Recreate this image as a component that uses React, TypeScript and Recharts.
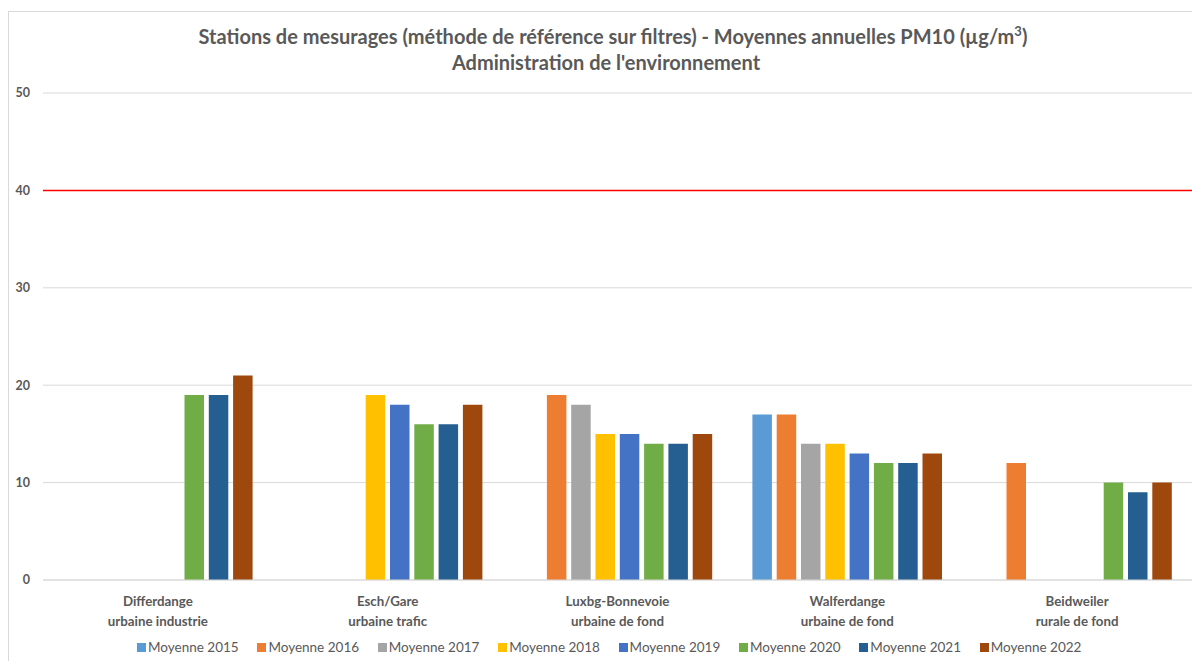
import React from 'react'
import { BarChart, Bar, XAxis, YAxis, CartesianGrid, ReferenceLine } from 'recharts'

const stations = ['Differdange', 'Esch/Gare', 'Luxbg-Bonnevoie', 'Walferdange', 'Beidweiler']
const stationTypes = ['urbaine industrie', 'urbaine trafic', 'urbaine de fond', 'urbaine de fond', 'rurale de fond']

const years = ['2015', '2016', '2017', '2018', '2019', '2020', '2021', '2022']
const colors = ['#5B9BD5', '#ED7D31', '#A5A5A5', '#FFC000', '#4472C4', '#70AD47', '#255E91', '#9E480E']

// one row per year, one value per station (null = no measurement)
const moy2015 = [null, null, null, 17, null]
const moy2016 = [null, null, 19, 17, 12]
const moy2017 = [null, null, 18, 14, null]
const moy2018 = [null, 19, 15, 14, null]
const moy2019 = [null, 18, 15, 13, null]
const moy2020 = [19, 16, 14, 12, 10]
const moy2021 = [19, 16, 14, 12, 9]
const moy2022 = [21, 18, 15, 13, 10]

const yTicks = [0, 10, 20, 30, 40, 50]
const limitValue = 40

const seriesValues = [moy2015, moy2016, moy2017, moy2018, moy2019, moy2020, moy2021, moy2022]

const data = stations.map((s, i) => {
  const row: Record<string, string | number | null> = { name: s, type: stationTypes[i] }
  years.forEach((y, k) => {
    row['y' + y] = seriesValues[k][i]
  })
  return row
})

const FONT = 'Lato, "Open Sans", sans-serif'
const GREY = '#595959'

function StationTick(props: any) {
  const { x, y, payload, index } = props
  return (
    <text x={x} y={y} textAnchor="middle" fill={GREY} fontSize={13.3} fontWeight={700} fontFamily={FONT}>
      <tspan x={x} dy={18}>{payload.value}</tspan>
      <tspan x={x} dy={20}>{stationTypes[index]}</tspan>
    </text>
  )
}

export default function App() {
  return (
    <div style={{ position: 'absolute', left: 0, top: 0, width: 1192, height: 661, background: '#fff', overflow: 'hidden' }}>
      <div
        style={{
          position: 'absolute',
          left: 8,
          top: 11,
          width: 1200,
          height: 700,
          borderLeft: '1.5px solid #D9D9D9',
          borderTop: '1.5px solid #D9D9D9',
        }}
      />
      <div
        style={{
          position: 'absolute',
          left: 0,
          width: 1226,
          top: 23,
          textAlign: 'center',
          fontFamily: FONT,
          fontWeight: 700,
          fontSize: 20,
          color: GREY,
          lineHeight: '26px',
        }}
      >
        <div>
          Stations de mesurages (méthode de référence sur filtres) - Moyennes annuelles PM10 (µg/m<sup style={{ fontSize: 13, lineHeight: 0 }}>3</sup>)
        </div>
        <div style={{ paddingRight: 14 }}>Administration de l'environnement</div>
      </div>
      <BarChart
        width={1192}
        height={661}
        data={data}
        margin={{ top: 93, right: 0, bottom: 0, left: 0 }}
        barSize={19.5}
        barGap={4.8}
        style={{ position: 'absolute', left: 0, top: 0 }}
      >
        <CartesianGrid vertical={false} stroke="#D9D9D9" strokeWidth={1} />
        <XAxis
          dataKey="name"
          tick={<StationTick />}
          tickLine={false}
          axisLine={{ stroke: '#D9D9D9' }}
          interval={0}
          height={81}
        />
        <YAxis
          domain={[0, 50]}
          ticks={yTicks}
          width={43}
          tickLine={false}
          axisLine={false}
          tickMargin={7}
          tick={{ fill: GREY, fontSize: 12.5, fontWeight: 700, fontFamily: FONT }}
        />
        <ReferenceLine y={limitValue} stroke="#FF0000" strokeWidth={1.5} />
        {years.map((y, k) => (
          <Bar key={y} dataKey={'y' + y} name={'Moyenne ' + y} fill={colors[k]} isAnimationActive={false} />
        ))}
      </BarChart>
      <div
        style={{
          position: 'absolute',
          left: 137,
          top: 639,
          display: 'flex',
          fontFamily: FONT,
          fontSize: 13.5,
          color: GREY,
        }}
      >
        {years.map((y, k) => (
          <div key={y} style={{ width: 120.4, display: 'flex', alignItems: 'center' }}>
            <span style={{ display: 'inline-block', width: 9, height: 9, background: colors[k], marginRight: 2 }} />
            <span>Moyenne {y}</span>
          </div>
        ))}
      </div>
    </div>
  )
}
